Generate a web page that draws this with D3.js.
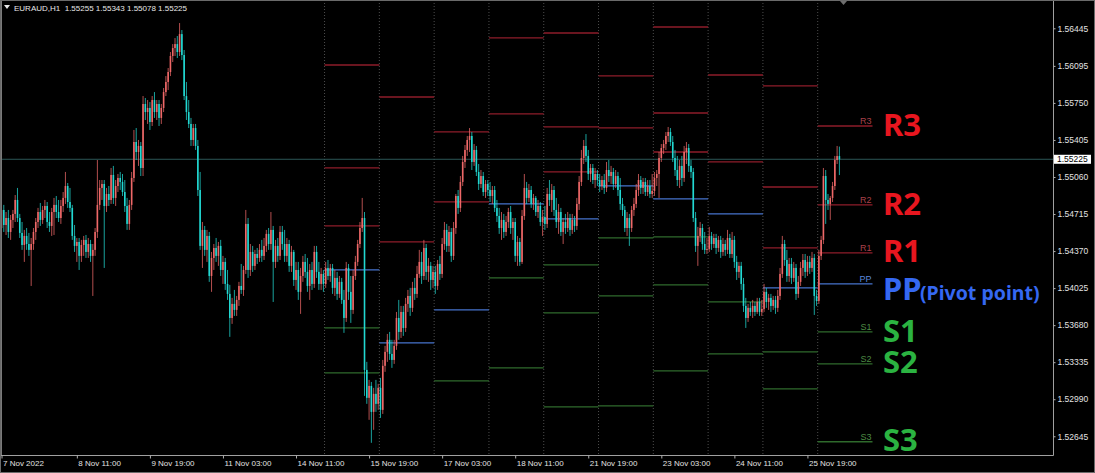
<!DOCTYPE html>
<html><head><meta charset="utf-8">
<script src="https://cdn.jsdelivr.net/npm/d3@7"></script>
<style>html,body{margin:0;padding:0;background:#000;overflow:hidden}</style>
</head><body>
<svg id="c" width="1095" height="473"></svg>
<script>
// ---------- data ----------
const symbolTitle = "EURAUD,H1  1.55255 1.55343 1.55078 1.55225";
const priceBase = 1.5;          // candle/pivot values are points (1e-5) above this base
const priceTicks = [1.56445,1.56095,1.55750,1.55405,1.55060,1.54715,1.54370,1.54025,1.53680,1.53335,1.52990,1.52645];
const lastPrice = 1.55225;
const timeLabels = ["7 Nov 2022","8 Nov 11:00","9 Nov 19:00","11 Nov 03:00","14 Nov 11:00","15 Nov 19:00","17 Nov 03:00","18 Nov 11:00","21 Nov 19:00","23 Nov 03:00","24 Nov 11:00","25 Nov 19:00"];
const timeLabelBars = [0,33,65,97,129,161,193,225,257,289,321,353];
// [open, high, low, close] per H1 bar
const ohlc = [
[4585,4818,4492,4753],[4753,4800,4548,4613],[4613,4734,4520,4678],[4678,4753,4492,4548],[4548,4706,4474,4660],[4660,4753,4585,4716],[4716,4892,4641,4846],[4846,4958,4641,4678],
[4678,4716,4492,4539],[4539,4641,4381,4427],[4427,4567,4269,4511],[4511,4585,4381,4436],[4436,4539,4325,4381],[4381,4492,4045,4436],[4436,4585,4381,4548],[4548,4678,4474,4641],
[4641,4772,4585,4734],[4734,4818,4604,4660],[4660,4790,4623,4753],[4753,4846,4678,4790],[4790,4827,4585,4641],[4641,4734,4548,4604],[4604,4772,4511,4734],[4734,4865,4520,4800],
[4800,4883,4678,4734],[4734,4846,4641,4678],[4678,4846,4623,4790],[4790,4920,4734,4865],[4865,5107,4809,4976],[4976,5004,4772,4827],[4827,4958,4734,4772],[4772,4800,4474,4511],
[4511,4613,4362,4418],[4418,4492,4269,4455],[4455,4492,4194,4325],[4325,4474,4269,4427],[4427,4511,4325,4474],[4474,4520,4306,4362],[4362,4492,4306,4436],[4436,4474,4269,4325],
[4325,4436,3952,4381],[4381,4585,4325,4548],[4548,5218,4492,4800],[4800,5032,4753,4958],[4958,5032,4846,4995],[4995,5032,4213,4790],[4790,4958,4734,4902],[4902,4976,4790,4846],
[4846,5144,4809,5079],[5079,5163,4809,4865],[4865,5032,4790,4976],[4976,5088,4920,5051],[5051,5107,4939,5014],[5014,5088,4883,4920],[4920,5032,4734,4790],[4790,4865,4567,4623],
[4623,4846,4567,4800],[4800,5107,4753,5051],[5051,5498,5014,5386],[5386,5516,5218,5293],[5293,5405,5163,5349],[5349,5386,5069,5144],[5144,5814,5069,5740],[5740,5796,5591,5665],
[5665,5777,5554,5703],[5703,5758,5498,5572],[5572,5814,5535,5777],[5777,5851,5610,5665],[5665,5777,5591,5740],[5740,5777,5535,5610],[5610,5740,5554,5703],[5703,5889,5665,5851],
[5851,6000,5814,5945],[5945,6075,5870,6038],[6038,6224,6000,6187],[6187,6298,6131,6261],[6261,6354,6187,6298],[6298,6373,6168,6224],[6224,6494,6187,6391],[6391,6429,6149,6196],
[6196,6243,5777,5814],[5814,5945,5591,5665],[5665,5777,5516,5554],[5554,5610,5349,5405],[5405,5554,5349,5516],[5516,5554,5312,5349],[5349,5405,4883,4939],[4939,5107,4381,4418],
[4418,4641,4213,4567],[4567,4604,4325,4381],[4381,4567,4269,4511],[4511,4548,4083,4138],[4138,4362,3990,4306],[4306,4436,4194,4399],[4399,4492,4269,4325],[4325,4455,4232,4418],
[4418,4474,4138,4194],[4194,4325,4064,4269],[4269,4306,4008,4064],[4064,4194,3915,3971],[3971,4055,3571,3747],[3747,3934,3692,3878],[3878,4008,3766,3822],[3822,3952,3766,3915],
[3915,4083,3859,4045],[4045,4250,3971,4008],[4008,4232,3952,4194],[4194,4753,4157,4623],[4623,4678,4120,4194],[4194,4436,4138,4362],[4362,4418,4176,4232],[4232,4381,4194,4343],
[4343,4399,4250,4306],[4306,4436,4269,4381],[4381,4474,4269,4325],[4325,4492,4287,4418],[4418,4567,4362,4530],[4530,4585,4381,4436],[4436,4734,4381,4567],[4567,4604,3896,4269],
[4269,4474,4213,4418],[4418,4492,4269,4325],[4325,4604,4287,4548],[4548,4604,4381,4436],[4436,4567,4269,4325],[4325,4492,4269,4436],[4436,4474,4176,4232],[4232,4418,4176,4362],
[4362,4381,4045,4101],[4101,4269,4008,4194],[4194,4269,3915,3990],[3990,4213,3785,4138],[4138,4325,4083,4269],[4269,4343,4120,4176],[4176,4306,3990,4045],[4045,4250,3915,4194],
[4194,4269,4008,4064],[4064,4418,4027,4362],[4362,4418,4120,4176],[4176,4269,4008,4064],[4064,4213,4008,4157],[4157,4194,3990,4064],[4064,4269,4027,4213],[4213,4287,4101,4138],
[4138,4250,4083,4213],[4213,4250,3971,4027],[4027,4194,3952,4120],[4120,4176,3915,3971],[3971,4138,3934,4083],[4083,4120,3878,3915],[3915,4008,3608,3747],[3747,4269,3710,4213],
[4213,4250,3915,3990],[3990,4138,3701,3822],[3822,4194,3785,4138],[4138,4325,4101,4269],[4269,4474,4232,4436],[4436,4641,4399,4585],[4585,4865,4548,4678],[4678,4734,3021,3263],
[3263,3338,2947,3003],[3003,3170,2798,3114],[3114,3151,2584,2872],[2872,3096,2705,3040],[3040,3170,2872,2947],[2947,3133,2891,3096],[3096,3189,2816,2891],[2891,3356,2853,3301],
[3301,3487,3245,3431],[3431,3598,3338,3543],[3543,3617,3356,3412],[3412,3543,3282,3356],[3356,3543,3319,3487],[3487,3803,3450,3747],[3747,3915,3543,3617],[3617,3859,3561,3803],
[3803,3859,3580,3654],[3654,3934,3617,3878],[3878,4008,3803,3952],[3952,4027,3766,3841],[3841,4083,3803,4027],[4027,4120,3915,3971],[3971,4232,3934,4157],[4157,4381,4120,4269],
[4269,4362,4064,4138],[4138,4474,4101,4399],[4399,4436,4101,4176],[4176,4306,4083,4232],[4232,4269,4008,4101],[4101,4232,4027,4176],[4176,4232,3971,4045],[4045,4287,4008,4250],
[4250,4325,4101,4157],[4157,4492,4120,4436],[4436,4641,4381,4567],[4567,4623,4362,4418],[4418,4604,4362,4548],[4548,4585,4269,4325],[4325,4641,4287,4585],[4585,4902,4530,4883],
[4883,4939,4716,4772],[4772,5069,4734,5014],[5014,5256,4976,5200],[5200,5358,5144,5312],[5312,5442,5256,5405],[5405,5516,5293,5442],[5442,5479,5125,5200],[5200,5367,5163,5312],
[5312,5349,5069,5107],[5107,5181,4939,4995],[4995,5125,4958,5069],[5069,5107,4883,4920],[4920,5032,4865,4995],[4995,5032,4883,4939],[4939,5014,4827,4883],[4883,4976,4809,4939],
[4939,4976,4734,4772],[4772,4846,4641,4697],[4697,4772,4530,4585],[4585,4734,4474,4660],[4660,4716,4492,4548],[4548,4697,4511,4641],[4641,4772,4585,4734],[4734,4790,4530,4585],
[4585,4678,4474,4641],[4641,4678,4269,4325],[4325,4511,4232,4455],[4455,4492,4232,4269],[4269,4753,4250,4697],[4697,5088,4660,4958],[4958,5014,4809,4865],[4865,4995,4827,4939],
[4939,4976,4772,4809],[4809,4902,4753,4865],[4865,4883,4697,4734],[4734,4846,4678,4790],[4790,4827,4604,4641],[4641,4753,4511,4688],[4688,4790,4567,4623],[4623,4958,4585,4902],
[4902,5032,4790,4846],[4846,4995,4734,4939],[4939,4976,4697,4753],[4753,4865,4585,4641],[4641,4809,4530,4734],[4734,4772,4511,4548],[4548,4678,4436,4641],[4641,4716,4530,4585],
[4585,4734,4548,4678],[4678,4716,4511,4567],[4567,4716,4530,4660],[4660,4697,4548,4604],[4604,4865,4567,4809],[4809,5069,4753,5014],[5014,5312,4976,5237],[5237,5405,5181,5349],
[5349,5460,5200,5256],[5256,5312,5032,5088],[5088,5181,5014,5144],[5144,5181,4995,5032],[5032,5144,4958,5088],[5088,5125,4976,5032],[5032,5088,4920,4976],[4976,5069,4939,5032],
[5032,5088,4902,4958],[4958,5200,4920,5125],[5125,5218,5014,5069],[5069,5163,4995,5107],[5107,5144,4939,4995],[4995,5125,4958,5069],[5069,5107,4883,4939],[4939,5051,4753,4809],
[4809,4865,4697,4753],[4753,4790,4548,4585],[4585,4734,4511,4678],[4678,4716,4418,4585],[4585,4790,4548,4753],[4753,4865,4697,4809],[4809,4995,4772,4939],[4939,5088,4883,5032],
[5032,5069,4902,4958],[4958,5051,4902,5014],[5014,5051,4883,4920],[4920,5032,4883,4976],[4976,5032,4865,4902],[4902,5088,4865,4930],[4930,5107,4883,5051],[5051,5125,4976,5088],
[5088,5293,4865,5237],[5237,5367,5200,5330],[5330,5405,5274,5367],[5367,5479,5312,5442],[5442,5526,5386,5479],[5479,5516,5349,5386],[5386,5442,5200,5237],[5237,5312,5069,5125],
[5125,5256,4976,5032],[5032,5218,4958,5163],[5163,5256,4976,5051],[5051,5349,5014,5293],[5293,5386,5181,5330],[5330,5367,5107,5163],[5163,5218,5051,5107],[5107,5144,4641,4678],
[4678,4734,4362,4418],[4418,4595,4232,4511],[4511,4641,4455,4585],[4585,4623,4381,4436],[4436,4548,4343,4381],[4381,4492,4343,4390],[4390,4595,4362,4511],[4511,4548,4381,4436],
[4436,4530,4399,4492],[4492,4530,4343,4399],[4399,4511,4362,4474],[4474,4511,4306,4362],[4362,4492,4325,4436],[4436,4474,4325,4381],[4381,4567,4343,4492],[4492,4530,4306,4343],
[4343,4548,4306,4474],[4474,4511,4213,4269],[4269,4325,4101,4176],[4176,4269,4120,4232],[4232,4269,4008,4064],[4064,4120,3803,3859],[3859,3934,3654,3747],[3747,3878,3710,3841],
[3841,3896,3766,3803],[3803,3915,3747,3859],[3859,3896,3766,3803],[3803,3934,3785,3896],[3896,3934,3766,3803],[3803,3915,3766,3831],[3831,4064,3803,3990],[3990,4027,3841,3896],
[3896,3971,3822,3934],[3934,3971,3803,3859],[3859,3952,3822,3915],[3915,3952,3785,3841],[3841,4008,3803,3952],[3952,4213,3915,4157],[4157,4511,4120,4436],[4436,4474,4232,4287],
[4287,4381,4083,4138],[4138,4306,4083,4250],[4250,4306,4064,4120],[4120,4269,4083,4213],[4213,4250,3915,3971],[3971,4138,3934,4083],[4083,4269,4045,4213],[4213,4343,4138,4287],
[4287,4343,4120,4176],[4176,4325,4138,4269],[4269,4325,4157,4213],[4213,4362,4176,4306],[4306,4343,3775,3952],[3952,4008,3859,3906],[3906,4381,3878,4325],[4325,4511,4287,4474],
[4474,5144,4436,5069],[5069,5125,4623,4846],[4846,4902,4753,4809],[4809,4883,4660,4865],[4865,5014,4827,4976],[4976,5256,4939,5218],[5218,5349,5181,5255],[5255,5343,5078,5225]
];
// daily pivot levels (points above base); null = outside the visible price range
const dayStartBar = [142,166,190,214,238,262,286,310,334,358];
const barsPerDay = 24;
const pivR3 = [6103,null,null,null,6401,null,6457,null,5908,5535];
const pivR2 = [5144,5805,5480,6355,5526,6001,5656,6010,4967,4800];
const pivR1 = [4604,4456,4828,5647,5107,5517,5293,5200,4400,4353];
const pivPP = [4195,3515,3822,4809,4670,4977,4856,4716,4027,4064];
const pivS1 = [3655,null,3161,4120,4241,4493,4502,3897,3431,3618];
const pivS2 = [3236,null,null,3282,3794,3953,4055,3413,3087,3320];
const pivS3 = [null,null,null,null,2919,2929,3254,null,null,2594];
const levelNames = ["R3","R2","R1","PP","S1","S2","S3"];

// ---------- drawing ----------
const W = 1095, H = 473, plotR = 1053, plotB = 455;
const price = v => priceBase + v * 1e-5;
const svg = d3.select("#c");
svg.append("rect").attr("width", W).attr("height", H).attr("fill", "#000");

const x = d3.scaleLinear().domain([0, ohlc.length - 1]).range([1.5, 839.4]);
const y = d3.scaleLinear().domain([1.524705, 1.567086]).range([plotB, 0]);
const half = (x(1) - x(0)) / 2;

const lineColor = {R: "#8e1d2a", P: "#4673cc", S: "#2f6a2c"};
const tagColor  = {R: "#a8404a", P: "#5a86dc", S: "#4c8a44"};
const bigColor  = {R: "#e8161f", P: "#3568f2", S: "#2bb341"};

const plot = svg.append("g");

// day separators
plot.selectAll("line.sep").data(dayStartBar).join("line")
  .attr("x1", d => x(d) - half).attr("x2", d => x(d) - half)
  .attr("y1", 0).attr("y2", plotB)
  .attr("stroke", "#4d4d4d").attr("stroke-width", 1).attr("stroke-dasharray", "1,2");

// current price line
plot.append("line").attr("x1", 0).attr("x2", plotR)
  .attr("y1", y(lastPrice)).attr("y2", y(lastPrice))
  .attr("stroke", "#2c5656").attr("stroke-width", 1);

// pivot segments
const levelArrays = [pivR3, pivR2, pivR1, pivPP, pivS1, pivS2, pivS3];
const segs = [];
dayStartBar.forEach((ds, di) => {
  levelArrays.forEach((arr, li) => {
    if (arr[di] != null) segs.push({ds, v: arr[di], name: levelNames[li], last: di === dayStartBar.length - 1});
  });
});
plot.selectAll("line.piv").data(segs).join("line")
  .attr("x1", d => x(d.ds) - half).attr("x2", d => x(d.ds + barsPerDay) - half)
  .attr("y1", d => y(price(d.v))).attr("y2", d => y(price(d.v)))
  .attr("stroke", d => lineColor[d.name[0]]).attr("stroke-width", 1.3);

// small level tags on the current day
plot.selectAll("text.tag").data(segs.filter(d => d.last)).join("text")
  .attr("x", d => x(d.ds + barsPerDay) - half - 1).attr("y", d => y(price(d.v)) - 2)
  .attr("text-anchor", "end").attr("fill", d => tagColor[d.name[0]])
  .style("font", "9px 'Liberation Sans', Arial, sans-serif")
  .text(d => d.name);

// candles
const bull = "#ee6868", bear = "#22d8d2";
const cg = plot.append("g");
cg.selectAll("line.wick").data(ohlc).join("line")
  .attr("x1", (d, i) => x(i)).attr("x2", (d, i) => x(i))
  .attr("y1", d => y(price(d[1]))).attr("y2", d => y(price(d[2])))
  .attr("stroke", d => d[3] >= d[0] ? bull : bear).attr("stroke-opacity", 0.75).attr("stroke-width", 1);
cg.selectAll("rect.body").data(ohlc).join("rect")
  .attr("x", (d, i) => x(i) - 0.8).attr("width", 1.6)
  .attr("y", d => y(price(Math.max(d[0], d[3]))))
  .attr("height", d => Math.max(1, Math.abs(y(price(d[0])) - y(price(d[3])))))
  .attr("fill", d => d[3] >= d[0] ? bull : bear);

// big labels on the right
const bigFont = "'Noto Sans', 'Open Sans', sans-serif";
const bigLabels = [
  {t: "R3", v: pivR3[9], k: "R", base: 136},
  {t: "R2", v: pivR2[9], k: "R", base: 215},
  {t: "R1", v: pivR1[9], k: "R", base: 262},
  {t: "PP", v: pivPP[9], k: "P", base: 300},
  {t: "S1", v: pivS1[9], k: "S", base: 342},
  {t: "S2", v: pivS2[9], k: "S", base: 373},
  {t: "S3", v: pivS3[9], k: "S", base: 451}
];
svg.selectAll("text.big").data(bigLabels).join("text")
  .attr("x", 883).attr("y", d => d.base)
  .attr("fill", d => bigColor[d.k])
  .style("font-family", bigFont).style("font-weight", 700).style("font-size", "31px")
  .text(d => d.t);
svg.append("text").attr("x", 920).attr("y", 300)
  .attr("fill", bigColor.P)
  .style("font-family", bigFont).style("font-weight", 700).style("font-size", "19.5px")
  .text("(Pivot point)");

// frame
svg.append("rect").attr("x", 0).attr("y", 0).attr("width", 2).attr("height", plotB).attr("fill", "#7a7a7a");
svg.append("line").attr("x1", 0).attr("x2", plotR + 0.5).attr("y1", plotB + 0.5).attr("y2", plotB + 0.5).attr("stroke", "#a0a0a0");
svg.append("line").attr("x1", plotR + 0.5).attr("x2", plotR + 0.5).attr("y1", 0).attr("y2", plotB + 0.5).attr("stroke", "#a0a0a0");
svg.append("rect").attr("x", 0.5).attr("y", 0.5).attr("width", W - 1).attr("height", H - 1).attr("fill", "none").attr("stroke", "#6a6a6a");

// right price axis
const gy = svg.append("g").attr("transform", `translate(${plotR + 0.5},0)`)
  .call(d3.axisRight(y).tickValues(priceTicks).tickFormat(d => d.toFixed(5)).tickSize(2).tickPadding(2));
gy.select(".domain").remove();
gy.selectAll(".tick line").attr("stroke", "#b0b0b0");
gy.selectAll(".tick text").attr("fill", "#e2e2e2").style("font", "8.5px 'Liberation Sans', Arial, sans-serif");

// last price tag
const ly = y(lastPrice);
svg.append("rect").attr("x", plotR + 1).attr("y", ly - 4.5).attr("width", 37).attr("height", 9).attr("fill", "#ffffff");
svg.append("text").attr("x", plotR + 4).attr("y", ly + 3).attr("fill", "#000")
  .style("font", "8.5px 'Liberation Sans', Arial, sans-serif").text(lastPrice.toFixed(5));

// bottom time axis
const gx = svg.append("g").attr("transform", `translate(0,${plotB + 0.5})`)
  .call(d3.axisBottom(x).tickValues(timeLabelBars).tickFormat((d, i) => timeLabels[i]).tickSize(3));
gx.select(".domain").remove();
gx.selectAll(".tick line").attr("stroke", "#b0b0b0");
gx.selectAll(".tick text").attr("fill", "#e2e2e2").attr("text-anchor", "start")
  .attr("x", 1).attr("y", 10.5).attr("dy", 0)
  .style("font", "8px 'Liberation Sans', Arial, sans-serif");

// header
svg.append("path").attr("d", "M4,5 L10,5 L7,9 Z").attr("fill", "#e8e8e8");
svg.append("text").attr("x", 14).attr("y", 10.5).attr("fill", "#e8e8e8")
  .style("font", "8px 'Liberation Sans', Arial, sans-serif").style("white-space", "pre")
  .text(symbolTitle);
// chart-shift marker
svg.append("path").attr("d", "M840,1 L847,1 L843.5,5 Z").attr("fill", "#6e6e6e");
</script>
</body></html>
